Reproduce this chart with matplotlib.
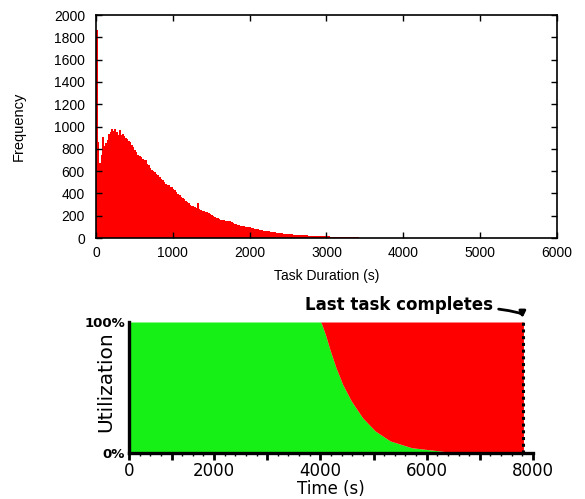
"""Task duration histogram (top) and cluster utilization over time (bottom)."""
import numpy as np
import matplotlib
matplotlib.use("Agg")
import matplotlib.pyplot as plt
from matplotlib.ticker import FixedLocator, NullFormatter

OUT = "out.png"

# histogram: counts per 20 s bin, starting at 0 s
BIN_W = 20
duration_counts = [
    1870, 860, 670, 745, 905, 825, 850, 880, 935, 950,
    978, 962, 974, 948, 928, 968, 922, 932, 912, 898,
    886, 872, 862, 838, 818, 792, 772, 748, 738, 726,
    712, 700, 702, 668, 652, 628, 614, 604, 592, 574,
    562, 548, 532, 516, 498, 484, 476, 474, 462, 454,
    440, 428, 412, 396, 382, 366, 360, 350, 334, 322,
    312, 300, 290, 284, 276, 270, 310, 258, 252, 246,
    240, 236, 230, 223, 214, 207, 198, 190, 182, 178,
    171, 166, 162, 158, 155, 151, 149, 157, 140, 134,
    128, 123, 118, 115, 112, 109, 106, 103, 100, 98,
    95, 92, 89, 85, 82, 79, 76, 73, 70, 67,
    64, 62, 59, 57, 54, 52, 50, 48, 46, 44,
    42, 41, 39, 38, 36, 35, 33, 32, 31, 30,
    29, 28, 27, 26, 25, 24, 23, 23, 22, 21,
    21, 20, 19, 19, 18, 17, 17, 16, 15, 15,
    14, 14, 13, 12, 12, 11, 11, 10, 10, 9,
    9, 8, 8, 7, 7, 6, 6, 6, 5, 5,
    5, 4, 4, 4, 3, 3, 3, 3, 2, 2,
    2, 2, 2, 1, 1, 1, 1, 1, 1, 1,
    1, 0, 1, 0, 1, 0, 1, 0, 0, 0,
]
hist_xticks = [0, 1000, 2000, 3000, 4000, 5000, 6000]
hist_yticks = [0, 200, 400, 600, 800, 1000, 1200, 1400, 1600, 1800, 2000]

# utilization (% busy) over time; after the last task the cluster is idle
util_time = [0, 4000, 4020, 4094, 4188, 4294, 4419, 4582, 4794, 5032,
             5313, 5720, 6157, 6400, 7820]
util_pct = [100, 100, 99, 90.5, 77.9, 65.1, 52.4, 39.7, 26.9, 16.8,
            9.2, 4.0, 2.0, 0.8, 0]
last_task = 7820
util_major = [0, 1000, 2000, 3000, 4000, 5000, 6000, 7000, 8000]
util_labels = ["0", "", "2000", "", "4000", "", "6000", "", "8000"]

GREEN = "#16f016"
RED = "#ff0000"


def _fwd(x):
    # first 2000 s of the time axis are drawn compressed
    x = np.asarray(x, dtype=float)
    return np.where(x < 2000, 0.8 * x, x - 400)


def _inv(y):
    y = np.asarray(y, dtype=float)
    return np.where(y < 1600, y / 0.8, y + 400)


fig = plt.figure(figsize=(5.85, 4.99), dpi=100)

# ---- top: histogram ----
ax = fig.add_axes([0.1641, 0.523, 0.788, 0.4469])
edges = np.arange(len(duration_counts) + 1) * BIN_W
ax.stairs(duration_counts, edges, fill=True, color=RED, linewidth=0)
ax.set_xlim(0, 6000)
ax.set_ylim(0, 2000)
ax.set_xticks(hist_xticks)
ax.set_yticks(hist_yticks)
for s in ax.spines.values():
    s.set_linewidth(1.2)
ax.tick_params(direction="in", length=4, width=1, top=True, right=True,
               labelsize=10)
ax.tick_params(axis="x", pad=6)
ax.tick_params(axis="y", pad=8)
for lab in ax.get_xticklabels() + ax.get_yticklabels():
    lab.set_family("Liberation Sans")
ax.set_xlabel("Task Duration (s)", family="Liberation Sans", fontsize=10,
              labelpad=6)
ax.set_ylabel("Frequency", family="Liberation Sans", fontsize=10.5,
              labelpad=20)

# ---- bottom: utilization ----
bx = fig.add_axes([0.2205, 0.0922, 0.6906, 0.2625])
bx.set_xscale("function", functions=(_fwd, _inv))
t = np.array(util_time, dtype=float)
u = np.array(util_pct, dtype=float)
bx.fill_between(t, 0, u, color=GREEN, linewidth=0)
bx.fill_between(t, u, 100, color=RED, linewidth=0)
bx.plot([last_task, last_task], [0, 100], color="black", lw=2.2,
        linestyle=(0, (1, 1.2)))
bx.set_xlim(0, 8000)
bx.set_ylim(0, 100)

bx.spines["top"].set_visible(False)
bx.spines["right"].set_visible(False)
bx.spines["left"].set_linewidth(2.4)
bx.spines["bottom"].set_linewidth(2.4)
bx.xaxis.set_major_locator(FixedLocator(util_major))
bx.set_xticklabels(util_labels)
minor = [250, 500, 750, 1250, 1500, 1750] + [
    m for m in range(2200, 8000, 200) if m % 1000]
bx.xaxis.set_minor_locator(FixedLocator(minor))
bx.xaxis.set_minor_formatter(NullFormatter())
bx.tick_params(axis="x", which="major", direction="out", length=5, width=2,
               labelsize=12, pad=1.5)
bx.tick_params(axis="x", which="minor", direction="out", length=2.5, width=1)
bx.set_yticks([0, 100])
bx.set_yticklabels(["0%", "100%"], fontweight="bold", fontsize=9.5)
bx.tick_params(axis="y", length=0, pad=3)
bx.set_xlabel("Time (s)", fontsize=12, labelpad=0)
bx.set_ylabel("Utilization", fontsize=14.5)
bx.yaxis.set_label_coords(-0.035, 0.544)

bx.annotate("Last task completes", xy=(last_task - 20, 103), xytext=(7250, 113),
            ha="right", va="center", fontsize=12, fontweight="bold",
            annotation_clip=False,
            arrowprops=dict(arrowstyle="-|>", color="black", lw=2,
                            mutation_scale=9, shrinkA=2, shrinkB=0,
                            connectionstyle="angle3,angleA=0,angleB=90"))

fig.savefig(OUT, dpi=100)
